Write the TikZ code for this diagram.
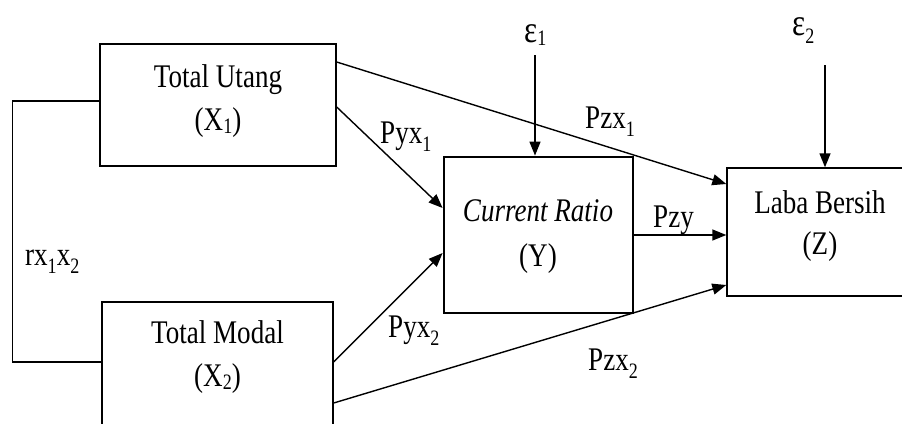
\documentclass[tikz,border=0pt]{standalone}
\usepackage{fontspec}
\setmainfont[FakeStretch=0.82]{Liberation Serif}
\usetikzlibrary{arrows.meta,calc}
\newcommand\lowsub[1]{\raisebox{-8pt}{\fontsize{22}{22}\selectfont #1}}
\newcommand\boxsub[1]{\raisebox{-3pt}{\fontsize{22}{22}\selectfont #1}}
\begin{document}
\begin{tikzpicture}[x=1pt,y=-1pt,
  box/.style={draw, line width=1.4pt, inner sep=0pt},
  txt/.style={inner sep=0pt, align=center, font=\fontsize{33}{43}\selectfont},
  lbl/.style={inner sep=0pt, anchor=base west, font=\fontsize{33}{40}\selectfont},
  ln/.style={line width=1.4pt},
  arr/.style={line width=1.4pt, -{Triangle[length=14pt,width=11pt]}}]
\useasboundingbox (0,0) rectangle (902,423);
\fill[white] (0,0) rectangle (902,423);
% boxes
\node[box, minimum width=236pt, minimum height=122pt] (x1) at (218,105) {};
\node[box, minimum width=231pt, minimum height=138pt] (x2) at (217.5,371) {};
\node[box, line width=2.8pt, minimum width=189pt, minimum height=156pt] (y) at (538.5,235) {};
\node[box, minimum width=200pt, minimum height=128pt] (z) at (827,232) {};
% box texts
\node[txt] (x1t) at (218,101) {Total Utang\\(X\boxsub{1})};
\node[txt] (x2t) at (217.5,357) {Total Modal\\(X\boxsub{2})};
\node[txt, font=\fontsize{33}{45}\selectfont] (yt) at (538,237) {\textit{Current Ratio}\\(Y)};
\node[txt, font=\fontsize{33}{41}\selectfont] (zt) at (820,226) {Laba Bersih\\(Z)};
% errors
\node[lbl, font=\fontsize{38}{40}\selectfont] (e1) at (524,42) {ε\boxsub{1}};
\node[lbl, font=\fontsize{38}{40}\selectfont] (e2) at (792,35) {ε\lowsub{2}};
\coordinate (c1) at (535,55);
\coordinate (c2) at (825,65);
\draw[arr] (c1) -- (c1 |- y.north);
\draw[arr] (c2) -- (c2 |- z.north);
% correlation
\draw[ln] ([yshift=4pt]x1.west) -- ++(-87pt,0) |- ([yshift=9pt]x2.west);
\node[lbl] (r) at (25,265) {rx\lowsub{1}x\lowsub{2}};
% paths
\draw[arr] ([yshift=43pt]x1.east) -- ([yshift=48pt]z.west);
\draw[arr] ([yshift=-2pt]x1.east) -- ([yshift=27pt]y.west);
\draw[arr] ([yshift=9pt]x2.east) -- ([yshift=-18pt]y.west);
\draw[arr] ([yshift=-32pt]x2.east) -- ([yshift=-53pt]z.west);
\draw[arr] (y.east) -- (y.east -| z.west);
% labels
\node[lbl] (l1) at (380,143) {Pyx\lowsub{1}};
\node[lbl] (l2) at (585,128) {Pzx\lowsub{1}};
\node[lbl] (l3) at (653,227) {Pzy};
\node[lbl] (l4) at (388,337) {Pyx\lowsub{2}};
\node[lbl] (l5) at (588,370) {Pzx\lowsub{2}};
\end{tikzpicture}
\end{document}
